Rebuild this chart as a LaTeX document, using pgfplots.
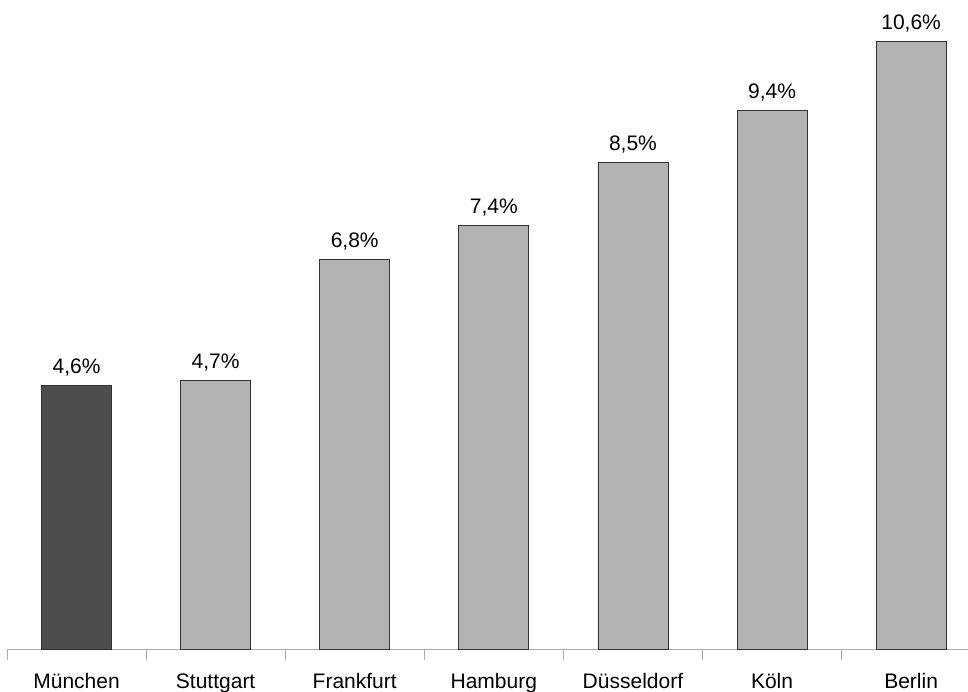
\documentclass[border=0pt]{standalone}
\usepackage{pgfplots}
\pgfplotsset{compat=1.18}
\usepackage{fontspec}
\setmainfont{Liberation Sans}
\definecolor{darkbar}{HTML}{4D4D4D}
\definecolor{lightbar}{HTML}{B3B3B3}
\definecolor{edge}{HTML}{333333}
\definecolor{axisgray}{HTML}{ABABAB}
\begin{document}
\begin{tikzpicture}
\begin{axis}[
  at={(0,0)}, anchor=south west,
  scale only axis, width=961pt, height=649.5pt,
  xmin=-0.5, xmax=6.409, ymin=0, ymax=11.33,
  axis y line=none, axis x line*=bottom,
  axis line style={axisgray, line width=1pt, -},
  ybar, bar width=70pt, bar shift=0pt,
  xtick={0,1,2,3,4,5,6},
  xticklabels={München,Stuttgart,Frankfurt,Hamburg,Düsseldorf,Köln,Berlin},
  major tick length=0pt,
  minor xtick={-0.5,0.5,1.5,2.5,3.5,4.5,5.5},
  minor tick length=11pt,
  tick align=outside,
  minor tick style={axisgray, line width=1pt},
  tick label style={font=\fontsize{21}{24}\selectfont},
  xticklabel style={anchor=base, yshift=-39.5pt},
  /pgf/number format/assume math mode=true,
  nodes near coords={\pgfmathprintnumber[use comma,fixed,fixed zerofill,precision=1]{\pgfplotspointmeta}\%},
  every node near coord/.append style={font=\fontsize{21}{24}\selectfont, black, anchor=base, yshift=12pt},
  clip=false,
]
\addplot[fill=darkbar, draw=edge, line width=0.8pt] coordinates {(0,4.6)};
\addplot[fill=lightbar, draw=edge, line width=0.8pt] coordinates {(1,4.7) (2,6.8) (3,7.4) (4,8.5) (5,9.4) (6,10.6)};
\end{axis}
\pgfresetboundingbox
\path (-7pt,-42.5pt) rectangle (961pt,649.5pt);
\end{tikzpicture}
\end{document}
